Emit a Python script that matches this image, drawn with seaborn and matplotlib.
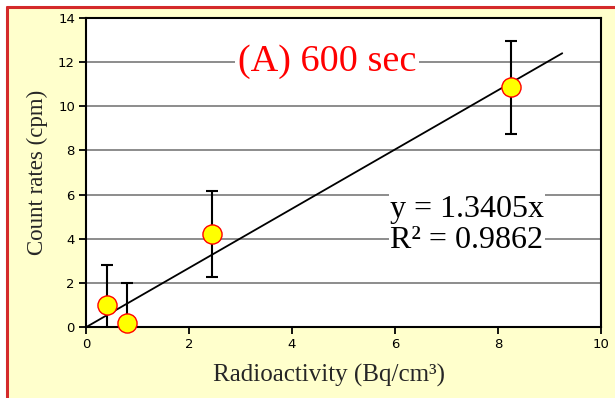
import matplotlib
matplotlib.use("Agg")
import matplotlib.pyplot as plt
import seaborn as sns
import pandas as pd
from matplotlib.patches import Rectangle
from matplotlib.lines import Line2D

# Data
activity = [0.4, 0.8, 2.45, 8.25]
count_rate = [1.0, 0.2, 4.2, 10.85]
count_err = [1.8, 1.8, 1.95, 2.1]

slope = 1.3405
r2 = 0.9862
fit_x = [0.0, 9.25]

df = pd.DataFrame({"x": activity, "y": count_rate})
fit = pd.DataFrame({"x": fit_x, "y": [slope * v for v in fit_x]})

sns.set_style("white")
plt.rcParams["font.family"] = ["DejaVu Sans"]

fig = plt.figure(figsize=(6.15, 3.98), dpi=100, facecolor="white")

# pale yellow panel with red frame on top/left
fig.add_artist(Rectangle((0.012, 0), 0.988, 0.983, transform=fig.transFigure,
                         facecolor="#FFFFCC", edgecolor="none", zorder=-10))
fig.add_artist(Line2D([0.012, 1], [0.983, 0.983], transform=fig.transFigure,
                      color="#D42A2A", lw=2.2, zorder=-5))
fig.add_artist(Line2D([0.012, 0.012], [0, 0.983], transform=fig.transFigure,
                      color="#D42A2A", lw=2.2, zorder=-5))

ax = fig.add_axes([0.140, 0.178, 0.837, 0.777])
ax.set_facecolor("white")

ax.set_xlim(0, 10)
ax.set_ylim(0, 14)
ax.set_xticks(range(0, 11, 2))
ax.set_yticks(range(0, 15, 2))
for yv in range(2, 14, 2):
    ax.axhline(yv, color="#8C8C8C", lw=1.4, zorder=1)

sns.lineplot(data=fit, x="x", y="y", ax=ax, color="black", lw=1.3, zorder=3)
ax.errorbar(activity, count_rate, yerr=count_err, fmt="none", ecolor="black",
            elinewidth=1.5, capsize=4, capthick=1.5, zorder=4)
sns.scatterplot(data=df, x="x", y="y", ax=ax, color="#FFFF00", edgecolor="#FF0000",
                linewidth=1.0, s=190, zorder=5, clip_on=False)

for side in ["left", "bottom", "top", "right"]:
    ax.spines[side].set_color("black")
    ax.spines[side].set_linewidth(1.5)
ax.tick_params(axis="both", direction="out", length=5, width=1.3,
               labelsize=9.5, colors="black", pad=3)
ax.tick_params(axis="both", left=True, bottom=True)

serif = ["Liberation Serif", "DejaVu Serif"]
ax.set_xlabel("Radioactivity (Bq/cm³)", family=serif, fontsize=18)
ax.xaxis.set_label_coords(0.472, -0.118)
ax.set_ylabel("Count rates (cpm)", family=serif, fontsize=16.5, labelpad=7)

ax.text(4.68, 12.0, "(A) 600 sec", family=serif, fontsize=27.5, color="#FF0000",
        ha="center", va="center", zorder=6,
        bbox=dict(facecolor="white", edgecolor="none", pad=2))
ax.text(5.9, 4.62, f"y = {slope}x\nR² = {r2}", family=serif, fontsize=23,
        color="black", ha="left", va="center", linespacing=1.12, zorder=6,
        bbox=dict(facecolor="white", edgecolor="none", pad=1))

fig.savefig("out.png", dpi=100, facecolor=fig.get_facecolor())
